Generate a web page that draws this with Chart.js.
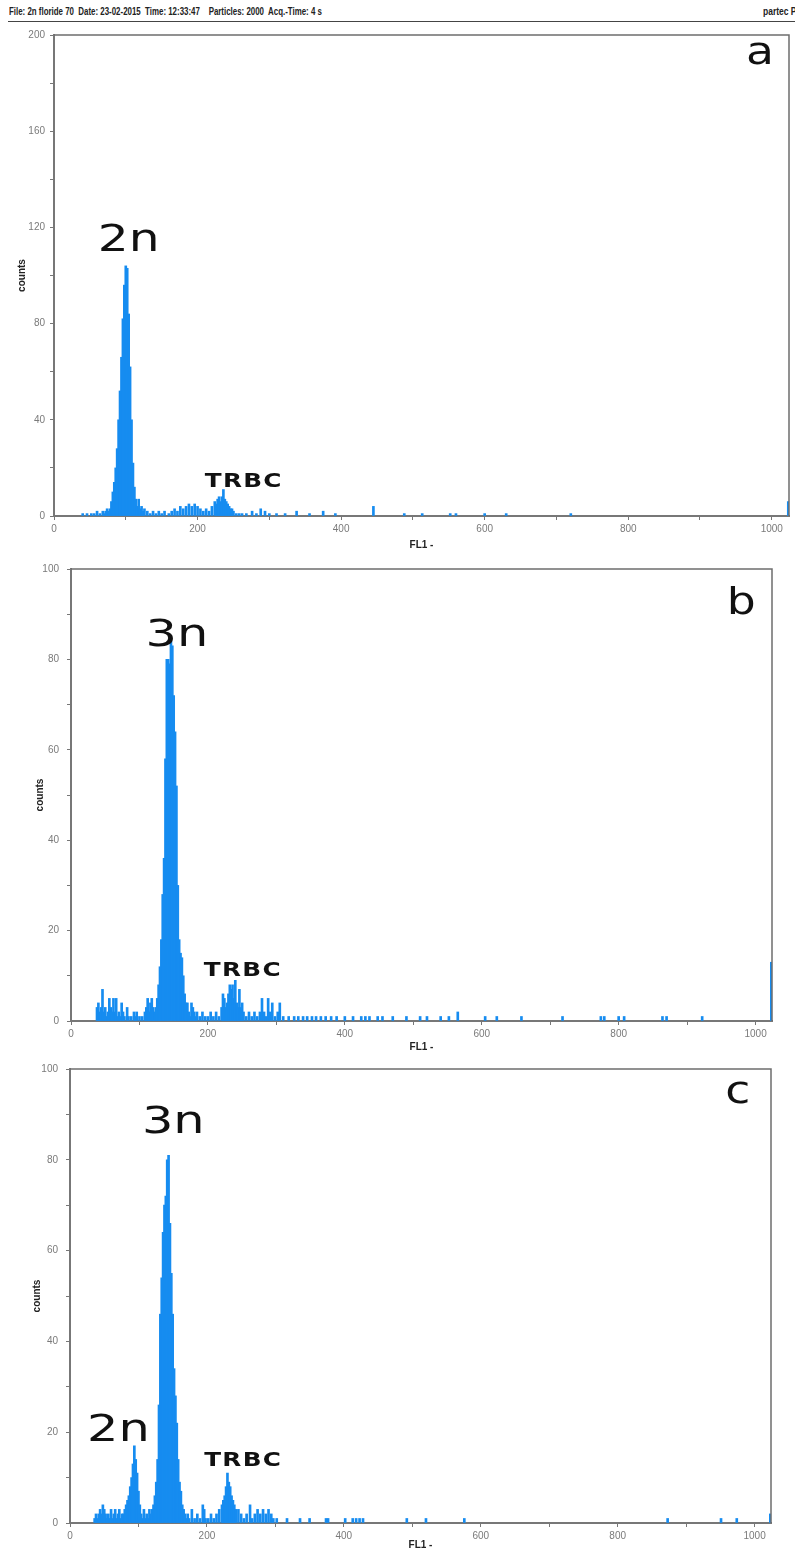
<!DOCTYPE html>
<html>
<head>
<meta charset="utf-8">
<script src="https://cdn.jsdelivr.net/npm/chart.js@4.4.1/dist/chart.umd.min.js"></script>
<style>
    html, body { margin: 0; padding: 0; background: #fff; }
    body { width: 795px; height: 1551px; position: relative; overflow: hidden; }
    #header { position: absolute; left: 9px; top: 6px; font: bold 10px "Liberation Sans", sans-serif; color: #222; white-space: pre; transform: scaleX(0.79); transform-origin: left top; }
    #partec { position: absolute; left: 763px; top: 6px; font: bold 10px "Liberation Sans", sans-serif; color: #222; white-space: pre; transform: scaleX(0.85); transform-origin: left top; }
    #rule { position: absolute; left: 8px; width: 787px; top: 21px; border-top: 1px solid #444; }
    canvas { position: absolute; left: 0; }
</style>
</head>
<body>
<div id="header">File: 2n floride 70  Date: 23-02-2015  Time: 12:33:47    Particles: 2000  Acq.-Time: 4 s</div>
<div id="partec">partec P</div>
<div id="rule"></div>
<canvas id="chartA" width="795" height="535" style="top:20px"></canvas>
<canvas id="chartB" width="795" height="500" style="top:555px"></canvas>
<canvas id="chartC" width="795" height="496" style="top:1055px"></canvas>
<script>
// --- datos (canal FL1 -> cuentas) ---

// panel a : 2n
const aBins = [40, 46, 52, 56, 60, 64, 68, 70, 72, 74, 76,
    78, 80, 82, 84, 86, 88, 90, 92, 94, 96, 98, 100, 102, 104, 106, 108, 110, 112, 114, 116,
    118, 120, 122, 124, 126, 130, 134, 138, 142, 146, 150, 154, 160, 164, 168, 172, 176, 180, 184, 188,
    192, 196, 200, 204, 208, 212, 216, 220, 224, 226, 228, 230, 232, 234, 236, 238, 240, 242, 244, 246,
    248, 250, 254, 258, 262, 268, 276, 282, 288, 294, 300, 310, 322, 338, 356, 375, 392, 445, 488, 513,
    552, 560, 600, 630, 720, 1023];
const aCounts = [1, 1, 1, 1, 2, 1, 2, 1, 2, 3, 2,
    3, 6, 10, 14, 20, 28, 40, 52, 66, 82, 96, 104, 103, 84, 62, 40, 22, 12, 7, 4,
    7, 3, 4, 2, 3, 2, 1, 2, 1, 2, 1, 2, 1, 2, 3, 2, 4, 3, 4, 5,
    4, 5, 4, 3, 2, 3, 2, 4, 6, 5, 7, 8, 6, 8, 11, 7, 6, 5, 4, 3,
    3, 2, 1, 1, 1, 1, 2, 1, 3, 2, 1, 1, 1, 2, 1, 2, 1, 4, 1, 1,
    1, 1, 1, 1, 1, 6];

// panel b : 3n
const bBins = [38, 40, 42, 44, 46, 48, 50, 52, 54, 56, 58, 60, 62, 64, 66, 68, 70, 72, 74, 76, 78,
    82, 84, 88, 92, 94, 96, 100, 104, 108, 110, 112, 114, 116, 118, 120, 122,
    124, 126, 128, 130, 132, 134, 136, 138, 140, 142, 144, 146, 148, 150, 152, 154, 156, 158, 160, 162, 164, 166, 168, 170,
    172, 174, 176, 178, 180, 182, 184, 188, 192, 196, 200, 204, 208, 212, 216, 220, 222, 224, 226, 228,
    230, 232, 234, 236, 238, 240, 242, 244, 246, 248, 250, 252, 256, 260, 264, 268, 272, 276, 279, 282,
    285, 288, 291, 294, 298, 302, 305, 310, 318, 326, 332, 339, 345, 352, 358, 365, 372, 380, 388, 400,
    412, 424, 430, 436, 448, 455, 470, 490, 510, 520, 540, 552, 565, 605, 622, 658, 718, 774, 779, 800,
    808, 864, 870, 922, 1023];
const bCounts = [3, 4, 2, 3, 7, 2, 3, 1, 2, 5, 3, 2, 5, 2, 5, 1, 2, 1, 4, 2, 1,
    3, 1, 1, 2, 1, 2, 1, 1, 2, 3, 5, 2, 4, 5, 3, 2,
    3, 5, 8, 12, 18, 28, 36, 58, 80, 80, 79, 84, 83, 72, 64, 52, 30, 18, 15, 14, 10, 6, 4, 4,
    2, 1, 4, 3, 2, 1, 2, 1, 2, 1, 1, 2, 1, 2, 1, 3, 6, 5, 3, 4,
    6, 8, 7, 8, 5, 9, 4, 3, 7, 3, 4, 2, 1, 2, 1, 2, 1, 2, 5, 2,
    1, 5, 2, 4, 1, 2, 4, 1, 1, 1, 1, 1, 1, 1, 1, 1, 1, 1, 1, 1,
    1, 1, 1, 1, 1, 1, 1, 1, 1, 1, 1, 1, 2, 1, 1, 1, 1, 1, 1, 1,
    1, 1, 1, 1, 13];

// panel c : mezcla 2n + 3n
const cBins = [36, 38, 40, 42, 44, 46, 48, 50, 52, 54, 56, 58, 60, 62, 64, 66, 68, 70, 72, 74, 76, 78,
    80, 82, 84, 86, 88, 90, 92, 94, 96, 98, 100, 102,
    104, 106, 108, 110, 112, 114, 116, 118,
    120, 122, 124, 126, 128, 130, 132, 134, 136, 138, 140, 142, 144, 146, 148, 150, 152, 154, 156, 158, 160, 162, 164, 166, 168,
    170, 172, 174, 178, 182, 186, 190, 194, 196, 198, 202, 206, 210, 214, 218, 222, 224, 226, 228, 230,
    232, 234, 236, 238, 240, 242, 246, 250, 254, 258, 263, 266, 270, 274, 278, 282, 286, 290, 294, 297,
    302, 317, 336, 350, 374, 377, 402, 413, 418, 423, 428, 492, 520, 576, 873, 951, 974, 1023];
const cCounts = [1, 2, 1, 2, 3, 2, 4, 3, 2, 1, 2, 1, 3, 1, 2, 3, 1, 2, 3, 1, 2, 2,
    3, 4, 5, 6, 8, 10, 13, 17, 14, 11, 7, 4,
    2, 1, 3, 1, 2, 1, 3, 2,
    3, 4, 6, 9, 14, 26, 46, 54, 64, 70, 72, 80, 81, 66, 55, 46, 34, 28, 22, 14, 9, 7, 4, 3, 2,
    1, 2, 1, 3, 1, 2, 1, 4, 3, 1, 1, 2, 1, 2, 3, 4, 5, 6, 8, 11,
    9, 8, 6, 5, 4, 3, 3, 2, 1, 2, 4, 1, 2, 3, 2, 3, 2, 3, 2, 1,
    1, 1, 1, 1, 1, 1, 1, 1, 1, 1, 1, 1, 1, 1, 1, 1, 1, 2];

// etiquetas de ejes
const xTitle = 'FL1 -';
const yTitle = 'counts';

const barColor = '#168cf0';
const bigFont = '38px "DejaVu Sans", sans-serif';
const boldFont = 'bold 19px "DejaVu Sans", sans-serif';

// marco superior/derecho + anotaciones (en coordenadas de datos)
const framePlugin = {
    id: 'framePlugin',
    afterDraw(chart, args, opts) {
        const { ctx, chartArea: ca, scales } = chart;
        ctx.save();
        ctx.strokeStyle = '#6d6d6d';
        ctx.lineWidth = 1.5;
        ctx.beginPath();
        ctx.moveTo(ca.left, ca.top);
        ctx.lineTo(ca.right, ca.top);
        ctx.lineTo(ca.right, ca.bottom);
        ctx.stroke();
        ctx.fillStyle = '#111';
        ctx.textBaseline = 'alphabetic';
        (opts.notes || []).forEach(n => {
            const px = scales.x.getPixelForValue(n.x);
            const py = scales.y.getPixelForValue(n.y);
            ctx.save();
            ctx.translate(px, py);
            ctx.scale(n.sx, 1);
            ctx.font = n.font;
            ctx.letterSpacing = n.spacing || '0px';
            ctx.fillText(n.text, 0, 0);
            ctx.restore();
        });
        ctx.restore();
    }
};

function makePanel(id, bins, counts, yMax, yStep, yLabelEvery, box, notes) {
    const ctx = document.getElementById(id).getContext('2d');
    return new Chart(ctx, {
        type: 'bar',
        data: {
            datasets: [{
                data: bins.map((b, i) => ({ x: b, y: counts[i] })),
                backgroundColor: barColor,
                borderWidth: 0,
                barThickness: 2
            }]
        },
        options: {
            responsive: false,
            animation: false,
            layout: { padding: box.padding },
            plugins: {
                legend: { display: false },
                tooltip: { enabled: false },
                framePlugin: { notes: notes }
            },
            scales: {
                x: {
                    type: 'linear',
                    min: 0,
                    max: 1024,
                    offset: false,
                    afterFit: (s) => { s.height = box.xHeight; },
                    ticks: {
                        stepSize: 100,
                        includeBounds: false,
                        autoSkip: false,
                        maxRotation: 0,
                        padding: 3,
                        color: '#7a7a7a',
                        font: { family: '"Liberation Sans", sans-serif', size: 10 },
                        callback: (v) => (v % 200 === 0 ? v : '')
                    },
                    grid: { offset: false, drawOnChartArea: false, drawTicks: true, tickLength: 4, color: '#777' },
                    border: { color: '#777', width: 2 },
                    title: {
                        display: true, text: xTitle, color: '#222', padding: 0,
                        font: { family: '"Liberation Sans", sans-serif', size: 10, weight: 'bold' }
                    }
                },
                y: {
                    min: 0,
                    max: yMax,
                    afterFit: (s) => { s.width = box.yWidth; },
                    ticks: {
                        stepSize: yStep,
                        padding: box.yPad,
                        color: '#7a7a7a',
                        font: { family: '"Liberation Sans", sans-serif', size: 10 },
                        callback: (v) => (v % yLabelEvery === 0 ? v : '')
                    },
                    grid: { drawOnChartArea: false, drawTicks: true, tickLength: 4, color: '#777' },
                    border: { color: '#777', width: 2 },
                    title: {
                        display: true, text: yTitle, color: '#222', padding: 0,
                        font: { family: '"Liberation Sans", sans-serif', size: 10, weight: 'bold' }
                    }
                }
            }
        },
        plugins: [framePlugin]
    });
}

makePanel('chartA', aBins, aCounts, 200, 20, 40,
    { padding: { top: 15, left: 16, right: 6, bottom: 4 }, yWidth: 38, xHeight: 35, yPad: 5 },
    [
        { text: '2n', x: 61, y: 110, font: bigFont, sx: 1.28 },
        { text: 'TRBC', x: 210, y: 12, font: boldFont, sx: 1.3, spacing: '1px' },
        { text: 'a', x: 964, y: 188, font: bigFont, sx: 1.2 }
    ]);

makePanel('chartB', bBins, bCounts, 100, 10, 20,
    { padding: { top: 12, left: 34, right: 23, bottom: 2 }, yWidth: 37, xHeight: 32, yPad: 8 },
    [
        { text: '3n', x: 109, y: 83, font: bigFont, sx: 1.3 },
        { text: 'TRBC', x: 194, y: 10, font: boldFont, sx: 1.3, spacing: '1px' },
        { text: 'b', x: 958, y: 90, font: bigFont, sx: 1.2 }
    ]);

makePanel('chartC', cBins, cCounts, 100, 10, 20,
    { padding: { top: 11, left: 31, right: 24, bottom: 0 }, yWidth: 39, xHeight: 28, yPad: 8 },
    [
        { text: '3n', x: 105, y: 86, font: bigFont, sx: 1.3 },
        { text: '2n', x: 25, y: 18, font: bigFont, sx: 1.3 },
        { text: 'TRBC', x: 196, y: 12.5, font: boldFont, sx: 1.3, spacing: '1px' },
        { text: 'c', x: 957, y: 92.5, font: bigFont, sx: 1.2 }
    ]);
</script>
</body>
</html>
